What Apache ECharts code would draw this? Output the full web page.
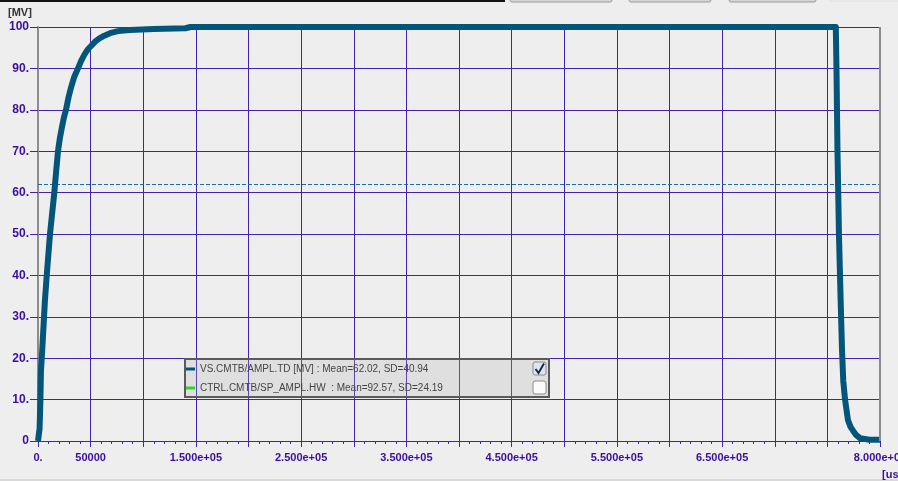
<!DOCTYPE html>
<html>
<head>
<meta charset="utf-8">
<title>VS.CMTB/AMPL.TD</title>
<script src="https://cdn.jsdelivr.net/npm/echarts@6/dist/echarts.min.js"></script>
<style>
  html, body { margin: 0; padding: 0; background: #eeeeee; }
  #chart { width: 898px; height: 481px; }
</style>
</head>
<body>
<div id="chart"></div>
<script>
// Amplitude trace VS.CMTB/AMPL.TD, time in microseconds, value in MV
const timeUs = [
  0, 1500, 2300, 2800, 3800, 6600, 8300, 11400, 15500, 17200, 19000, 20700,
  22500, 24500, 26600, 29000, 31500, 34500, 38000, 41000, 44000, 47000, 50400,
  54000, 58000, 63000, 68400, 76000, 87400, 110000, 140000, 145000,
  758000, 758700, 759600, 761000, 762500, 763900, 765100, 766800, 769600,
  772000, 774400, 777500, 781000, 790000, 800000
];
const amplitude = [
  0, 3, 10, 17, 21, 34, 40, 50, 60, 65, 70, 73,
  75.5, 78, 80, 83, 85.5, 88, 90, 91.8, 93.3, 94.5, 95.4,
  96.4, 97.2, 97.9, 98.5, 99, 99.3, 99.5, 99.7, 100,
  100, 89, 70, 50, 35, 22, 14.5, 10, 5,
  3.4, 2.5, 1.4, 0.7, 0.3, 0.3
];

// Legend rows: name, statistics, swatch colour, checked state
const traceNames = ['VS.CMTB/AMPL.TD [MV]', 'CTRL.CMTB/SP_AMPL.HW '];
const traceMeans = [62.02, 92.57];
const traceSDs = [40.94, 24.19];
const traceColors = ['#03557a', '#22dd22'];
const traceChecked = [true, false];

// Tick labels on the time axis (other ticks stay unlabeled)
const xTickLabels = {
  0: '0.', 50000: '50000', 150000: '1.500e+05', 250000: '2.500e+05',
  350000: '3.500e+05', 450000: '4.500e+05', 550000: '5.500e+05',
  650000: '6.500e+05', 800000: '8.000e+05'
};

const axisTextColor = '#3a0ea0';
const gridColor = '#4422b0';

const seriesData = timeUs.map((t, i) => [t, amplitude[i]]);

const chart = echarts.init(document.getElementById('chart'), null, { renderer: 'canvas' });

// Legend box drawn as graphic elements
const legendX = 185, legendY = 359, legendW = 364, legendH = 38;
const legendGraphics = [
  {
    type: 'rect', z: 100,
    shape: { x: legendX, y: legendY, width: legendW, height: legendH },
    style: { fill: 'rgba(180,180,180,0.25)', stroke: '#5a5a5a', lineWidth: 2 }
  }
];
traceNames.forEach((name, i) => {
  const rowY = legendY + 10 + i * 19;
  legendGraphics.push({
    type: 'line', z: 101,
    shape: { x1: legendX + 1, y1: rowY, x2: legendX + 10, y2: rowY },
    style: { stroke: traceColors[i], lineWidth: 3 }
  });
  legendGraphics.push({
    type: 'text', z: 101,
    x: legendX + 15, y: rowY,
    style: {
      text: name + ' : Mean=' + traceMeans[i].toFixed(2) + ', SD=' + traceSDs[i].toFixed(2),
      fill: '#444444', font: '10px "Liberation Sans", Arial, sans-serif',
      verticalAlign: 'middle', align: 'left'
    }
  });
  const boxY = rowY - 7;
  legendGraphics.push({
    type: 'rect', z: 101,
    shape: { x: 533, y: boxY, width: 13, height: 13, r: 2 },
    style: { fill: traceChecked[i] ? '#dce6f2' : '#fbfbfb', stroke: '#8a8a8a', lineWidth: 1 }
  });
  if (traceChecked[i]) {
    legendGraphics.push({
      type: 'polyline', z: 102,
      shape: { points: [[535.5, boxY + 7], [538.5, boxY + 11], [544, boxY + 1.5]] },
      style: { stroke: '#1c2a44', lineWidth: 2, fill: null }
    });
  }
});

const option = {
  backgroundColor: '#eeeeee',
  animation: false,
  grid: { left: 38, right: 18, top: 27, bottom: 40, containLabel: false, outerBoundsMode: 'none' },
  xAxis: {
    type: 'value',
    min: 0, max: 800000, interval: 50000,
    axisLine: { show: true, lineStyle: { color: gridColor, width: 1 } },
    axisTick: { show: true, length: 6, lineStyle: { color: gridColor } },
    minorTick: { show: true, splitNumber: 5, length: 3, lineStyle: { color: gridColor } },
    splitLine: { show: true, lineStyle: { color: gridColor, width: 1 } },
    axisLabel: {
      color: axisTextColor, fontSize: 11, fontWeight: 'bold',
      fontFamily: '"Liberation Sans", Arial, sans-serif',
      margin: 11, showMaxLabel: true, showMinLabel: true, hideOverlap: false,
      formatter: v => (xTickLabels[v] !== undefined ? xTickLabels[v] : '')
    }
  },
  yAxis: {
    type: 'value',
    min: 0, max: 100, interval: 10,
    axisLine: { show: true, lineStyle: { color: '#8c8c8c', width: 2 } },
    axisTick: { show: true, length: 8, lineStyle: { color: gridColor } },
    splitLine: { show: true, lineStyle: { color: gridColor, width: 1 } },
    axisLabel: {
      color: axisTextColor, fontSize: 12, fontWeight: 'bold',
      fontFamily: '"Liberation Sans", Arial, sans-serif',
      margin: 9,
      formatter: v => (v === 0 || v === 100 ? String(v) : v + '.')
    }
  },
  series: [
    {
      name: traceNames[0],
      type: 'line',
      data: seriesData,
      showSymbol: false,
      clip: true,
      lineStyle: { color: traceColors[0], width: 6, join: 'round' },
      z: 5,
      markLine: {
        silent: true,
        symbol: ['none', 'none'],
        label: { show: false },
        lineStyle: { color: '#15709a', width: 1, type: [4, 2] },
        data: [{ yAxis: traceMeans[0] }]
      }
    }
  ],
  graphic: [
    // right frame edge of the plot
    { type: 'line', z: 50, shape: { x1: 880, y1: 27, x2: 880, y2: 441 },
      style: { stroke: '#8c8c8c', lineWidth: 2 } },
    // window chrome along the top edge
    { type: 'rect', z: 50, shape: { x: 0, y: 0, width: 505, height: 2 }, style: { fill: '#111111' } },
    { type: 'rect', z: 50, shape: { x: 510, y: -10, width: 102, height: 12, r: 2 },
      style: { fill: '#d6d6d6', stroke: '#9a9a9a', lineWidth: 1 } },
    { type: 'rect', z: 50, shape: { x: 629, y: -10, width: 82, height: 12, r: 2 },
      style: { fill: '#d6d6d6', stroke: '#9a9a9a', lineWidth: 1 } },
    { type: 'rect', z: 50, shape: { x: 729, y: -10, width: 87, height: 12, r: 2 },
      style: { fill: '#d6d6d6', stroke: '#9a9a9a', lineWidth: 1 } },
    { type: 'rect', z: 50, shape: { x: 830, y: -10, width: 80, height: 11 },
      style: { fill: '#f6f6f6', stroke: '#dddddd', lineWidth: 1 } },
    // bottom edge line
    { type: 'line', z: 50, shape: { x1: 0, y1: 480, x2: 898, y2: 480 },
      style: { stroke: '#c4c4c4', lineWidth: 1 } },
    // axis units
    { type: 'text', z: 50, x: 8, y: 13,
      style: { text: '[MV]', fill: '#333333', font: 'bold 11px "Liberation Sans", Arial, sans-serif',
               verticalAlign: 'middle' } },
    { type: 'text', z: 50, x: 882, y: 475,
      style: { text: '[us]', fill: axisTextColor, font: 'bold 11px "Liberation Sans", Arial, sans-serif',
               verticalAlign: 'middle' } }
  ].concat(legendGraphics)
};

chart.setOption(option);
</script>
</body>
</html>
